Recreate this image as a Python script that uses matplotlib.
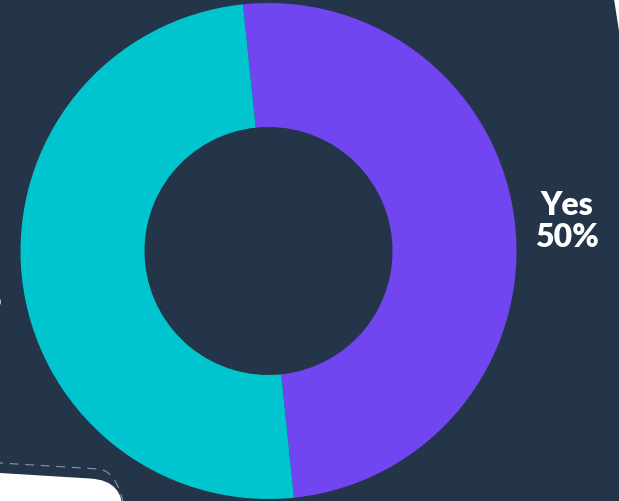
import matplotlib
matplotlib.use("Agg")
import matplotlib.pyplot as plt
from matplotlib.patches import FancyBboxPatch, Polygon
from matplotlib.transforms import Affine2D

# data
labels = ["Yes", "No"]
shares = [50, 50]
colors = ["#7145F0", "#00C4CE"]

BG = "#243549"

fig = plt.figure(figsize=(6.19, 5.02), dpi=100)
fig.set_facecolor(BG)
ax = fig.add_axes([0, 0, 1, 1])
ax.set_facecolor(BG)

# white card peeking in bottom-left (slightly rotated)
rot = Affine2D().rotate_deg_around(0, 30, -3.5) + ax.transData
card = FancyBboxPatch((-300, -200), 425, 228, boxstyle="round,pad=0,rounding_size=34",
                      facecolor="white", edgecolor="none", transform=rot, zorder=1)
ax.add_patch(card)
outline = FancyBboxPatch((-300, -200), 440, 238, boxstyle="round,pad=0,rounding_size=42",
                         facecolor="none", edgecolor="#8895a6", lw=0.8, ls=(0, (8, 6)),
                         transform=rot, zorder=1)
ax.add_patch(outline)

# white edge top-right
ax.add_patch(Polygon([[614, 502], [640, 502], [640, 470], [619, 470]],
                     closed=True, facecolor="white", edgecolor="none", zorder=1))

pct = ["%d%%" % s for s in shares]
wedges, texts = ax.pie(shares, labels=[l + "\n" + p for l, p in zip(labels, pct)],
                       colors=colors, startangle=95.9, counterclock=False,
                       center=(268.5, 250), radius=248, labeldistance=1.21,
                       wedgeprops=dict(width=124, edgecolor="none"),
                       textprops=dict(color="white", fontsize=23, fontweight="heavy",
                                      family=["Lato", "DejaVu Sans"], linespacing=1.12),
                       frame=True)
for w in wedges:
    w.set_zorder(2)
for t in texts:
    t.set_ha("center")
    t.set_va("center")
    t.set_zorder(3)

ax.set_xlim(0, 619)
ax.set_ylim(0, 502)
ax.set_aspect("auto")
ax.axis("off")

fig.savefig("out.png", dpi=100, facecolor=BG)
